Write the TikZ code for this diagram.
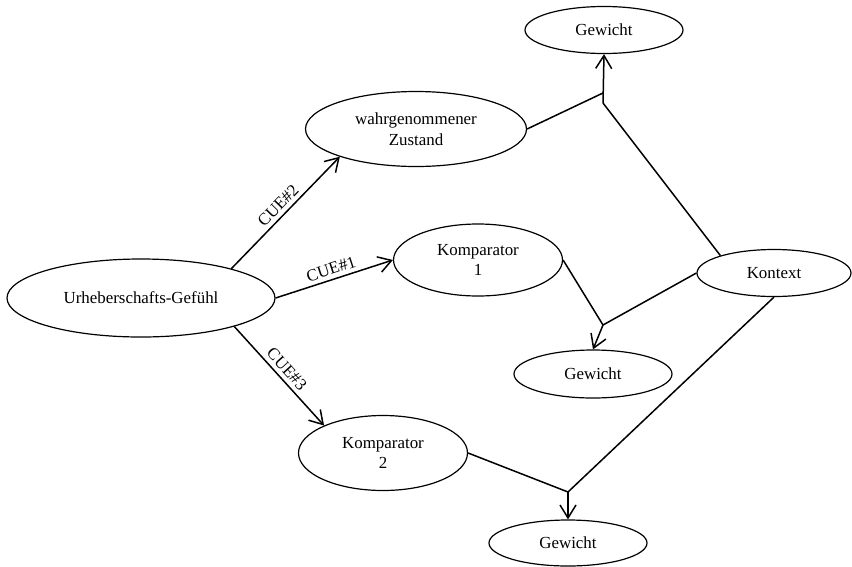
\documentclass[tikz,border=0pt]{standalone}
\usepackage{fontspec}
\setmainfont{Liberation Serif}
\usetikzlibrary{shapes.geometric,arrows.meta}
\tikzset{
  ell/.style={ellipse, draw, line width=1.2pt, inner sep=0pt, align=center,
    font=\fontsize{16.9}{20.5}\selectfont},
  conn/.style={line width=1.5pt},
  arr/.style={line width=1.5pt, -{Straight Barb[length=13pt,width=16pt,line width=1.5pt]}},
  lbl/.style={font=\fontsize{16.9}{20}\selectfont, sloped, above, inner sep=4pt}
}
\begin{document}
\begin{tikzpicture}[x=1pt,y=-1pt]
\useasboundingbox (0,0) rectangle (852,566);
\node[ell, minimum width=268pt, minimum height=78pt] (u) at (141,298) {Urheberschafts-Gefühl};
\node[ell, minimum width=221pt, minimum height=75pt] (w) at (416,129) {wahrgenommener\\Zustand};
\node[ell, minimum width=158pt, minimum height=47pt] (gt) at (604,30) {Gewicht};
\node[ell, minimum width=169pt, minimum height=72pt] (k1) at (478,260) {Komparator\\1};
\node[ell, minimum width=154pt, minimum height=47pt] (ktx) at (774,273) {Kontext};
\node[ell, minimum width=158pt, minimum height=48pt] (gm) at (593,374) {Gewicht};
\node[ell, minimum width=169pt, minimum height=75pt] (k2) at (383,453) {Komparator\\2};
\node[ell, minimum width=158pt, minimum height=46pt] (gb) at (568,543) {Gewicht};

\coordinate (jta) at (603,93);
\coordinate (jtb) at (603,103);
\coordinate (jm) at (603,325);
\coordinate (jb) at (568,492);

\draw[arr] (u.18) -- node[lbl] {CUE\#2} (w.200);
\draw[arr] (u.0) -- node[lbl] {CUE\#1} (k1.180);
\draw[arr] (u.-17) -- node[lbl] {CUE\#3} (k2.155);

\draw[conn] (w.east) -- (jta);
\draw[conn] (ktx.162) -- (jtb);
\draw[arr] (jtb) -- (gt.south);

\draw[conn] (k1.east) -- (jm);
\draw[conn] (ktx.west) -- (jm);
\draw[arr] (jm) -- (gm.north);

\draw[conn] (k2.east) -- (jb);
\draw[conn] (ktx.south) -- (jb);
\draw[arr] (jb) -- (gb.north);
\end{tikzpicture}
\end{document}
